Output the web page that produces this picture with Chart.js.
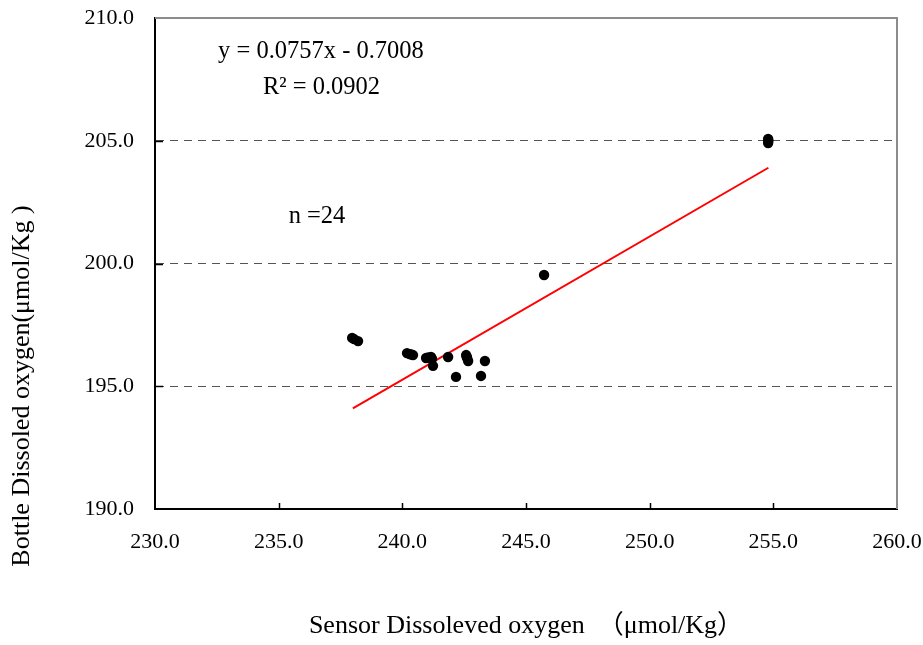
<!DOCTYPE html>
<html>
<head>
<meta charset="utf-8">
<script src="https://cdn.jsdelivr.net/npm/chart.js@4/dist/chart.umd.min.js"></script>
<style>
html,body{margin:0;padding:0;background:#fff;}
#wrap{width:923px;height:645px;position:relative;}
</style>
</head>
<body>
<div id="wrap"><canvas id="c" width="923" height="645"></canvas></div>
<script>
// ---- data ----
const sensorDO = [237.97, 238.21, 238.05, 240.19, 240.43, 240.30, 240.96, 241.16, 241.05, 241.24, 241.85, 242.58, 242.66, 242.62, 243.34, 242.17, 243.18, 245.73, 254.79, 254.79, 254.80, 241.20, 242.60, 240.35];
const bottleDO = [196.97, 196.84, 196.92, 196.35, 196.27, 196.31, 196.15, 196.19, 196.17, 195.83, 196.19, 196.27, 196.03, 196.15, 196.03, 195.38, 195.42, 199.53, 205.07, 204.91, 205.00, 196.12, 196.20, 196.30];
const fitX = [238.0, 254.8];
const fitY = [194.1, 203.9];
const xTicks = [230, 235, 240, 245, 250, 255, 260];
const yTicks = [190, 195, 200, 205, 210];
const equationText = 'y = 0.0757x - 0.7008';
const r2Text = 'R² = 0.0902';
const nText = 'n =24';
const xTitle = 'Sensor Dissoleved oxygen　（μmol/Kg）';
const yTitle = 'Bottle Dissoled oxygen(μmol/Kg )';

const SERIF = '"Liberation Serif", "Times New Roman", "Noto Sans CJK JP", serif';

const points = sensorDO.map((x, i) => ({x: x, y: bottleDO[i]}));
const fitLine = fitX.map((x, i) => ({x: x, y: fitY[i]}));

const decorPlugin = {
  id: 'decor',
  afterDraw(chart) {
    const ctx = chart.ctx;
    const a = chart.chartArea;
    const xs = chart.scales.x, ys = chart.scales.y;
    ctx.save();
    // top & right frame (gray)
    ctx.strokeStyle = '#8c8c8c';
    ctx.lineWidth = 2;
    ctx.beginPath();
    ctx.moveTo(a.left, a.top);
    ctx.lineTo(a.right, a.top);
    ctx.lineTo(a.right, a.bottom);
    ctx.stroke();
    // inner tick marks
    ctx.strokeStyle = '#000';
    ctx.lineWidth = 1.5;
    xTicks.slice(1, -1).forEach(v => {
      const px = Math.round(xs.getPixelForValue(v)) + 0.5;
      ctx.beginPath(); ctx.moveTo(px, a.bottom); ctx.lineTo(px, a.bottom - 6); ctx.stroke();
    });
    yTicks.slice(1, -1).forEach(v => {
      const py = Math.round(ys.getPixelForValue(v)) + 0.5;
      ctx.beginPath(); ctx.moveTo(a.left, py); ctx.lineTo(a.left + 8, py); ctx.stroke();
    });
    // annotations
    ctx.fillStyle = '#000';
    ctx.textAlign = 'center';
    ctx.textBaseline = 'middle';
    ctx.font = '24.5px ' + SERIF;
    ctx.fillText(equationText, xs.getPixelForValue(236.71), ys.getPixelForValue(208.62));
    ctx.fillText(r2Text, xs.getPixelForValue(236.73), ys.getPixelForValue(207.15));
    ctx.fillText(nText, xs.getPixelForValue(236.55), ys.getPixelForValue(201.9));
    // y-axis title
    ctx.save();
    ctx.translate(22, 386);
    ctx.rotate(-Math.PI / 2);
    ctx.font = '26px ' + SERIF;
    ctx.fillText(yTitle, 0, 0);
    ctx.restore();
    ctx.restore();
  }
};

new Chart(document.getElementById('c'), {
  type: 'scatter',
  data: {
    datasets: [
      {
        label: 'samples',
        data: points,
        backgroundColor: '#000',
        borderColor: '#000',
        pointRadius: 5.2,
        borderWidth: 0,
        order: 1
      },
      {
        type: 'line',
        label: 'fit',
        data: fitLine,
        borderColor: '#ff0000',
        borderWidth: 2,
        pointRadius: 0,
        fill: false,
        showLine: true,
        order: 2
      }
    ]
  },
  options: {
    responsive: false,
    animation: false,
    devicePixelRatio: 1,
    layout: { padding: { left: 0, top: 18, right: 26, bottom: 0 } },
    plugins: { legend: { display: false }, tooltip: { enabled: false } },
    scales: {
      x: {
        type: 'linear',
        min: 230, max: 260,
        afterBuildTicks: s => { s.ticks = xTicks.map(v => ({value: v})); },
        afterFit: s => { s.height = 136; s.paddingLeft = 0; s.paddingRight = 0; s.paddingTop = 0; s.paddingBottom = 0; },
        grid: { display: false, drawTicks: false },
        border: { display: true, color: '#000', width: 2 },
        ticks: {
          color: '#000',
          padding: 20,
          maxRotation: 0,
          font: { family: SERIF, size: 22 },
          callback: v => Number(v).toFixed(1)
        },
        title: {
          display: true,
          text: xTitle,
          color: '#000',
          font: { family: SERIF, size: 26 },
          padding: { top: 0, bottom: 3 }
        }
      },
      y: {
        type: 'linear',
        min: 190, max: 210,
        afterBuildTicks: s => { s.ticks = yTicks.map(v => ({value: v})); },
        afterFit: s => { s.width = 155; s.paddingLeft = 0; s.paddingRight = 0; s.paddingTop = 0; s.paddingBottom = 0; },
        grid: {
          display: true,
          drawTicks: false,
          lineWidth: 1,
          color: c => (c.tick && c.tick.value > 190 && c.tick.value < 210) ? '#555' : 'rgba(0,0,0,0)'
        },
        border: { display: true, color: '#000', width: 2, dash: [8, 6] },
        ticks: {
          color: '#000',
          padding: 21,
          font: { family: SERIF, size: 22 },
          callback: v => Number(v).toFixed(1)
        }
      }
    }
  },
  plugins: [decorPlugin]
});
</script>
</body>
</html>
